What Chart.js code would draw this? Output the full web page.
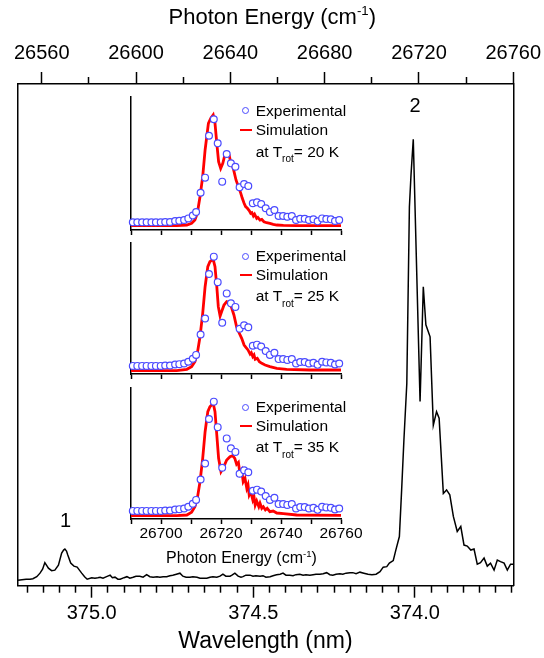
<!DOCTYPE html>
<html>
<head>
<meta charset="utf-8">
<script src="https://cdn.jsdelivr.net/npm/chart.js@4.4.1/dist/chart.umd.min.js"></script>
<style>
  html, body { margin: 0; padding: 0; background: #fff; }
  #wrap { position: relative; width: 544px; height: 658px; overflow: hidden;
          font-family: Arial, "Liberation Sans", sans-serif; color: #000; }
  canvas { position: absolute; }
  .txt { position: absolute; white-space: nowrap; line-height: 1; }
  .txt sup { font-size: 0.6em; position: relative; top: -0.15em; vertical-align: top; }
  .txt sub { font-size: 10px; position: relative; top: 5.4px; vertical-align: baseline; }
  .dot { position: absolute; width: 7px; height: 7px; box-sizing: border-box;
         border: 1.2px solid #4a4aff; border-radius: 50%; background: #fff; }
  .bar { position: absolute; width: 11.7px; height: 2.8px; background: #ff0000; }
</style>
</head>
<body>
<div id="wrap">
  <canvas id="mainChart" width="544" height="658" style="left:0;top:0"></canvas>
  <canvas id="inset1" width="270" height="150" style="left:100px;top:90px"></canvas>
  <canvas id="inset2" width="270" height="148" style="left:100px;top:236px"></canvas>
  <canvas id="inset3" width="270" height="160" style="left:100px;top:381px"></canvas>
  <div class="txt" style="left:24.5px;width:495.6px;text-align:center;top:6.3px;font-size:22px">Photon Energy (cm<sup>-1</sup>)</div>
  <div class="txt" style="left:166px;top:550.2px;font-size:16px">Photon Energy (cm<sup>-1</sup>)</div>
  <div class="txt" style="left:60.1px;top:510.2px;font-size:20px">1</div>
  <div class="txt" style="left:409.4px;top:95.2px;font-size:20px">2</div>
</div>
<script>
const FONT = 'Arial, "Liberation Sans", sans-serif';
Chart.defaults.font.family = FONT;
Chart.defaults.color = '#000';

// Main spectrum (wavelength in nm, normalised intensity)
const wavelengthNm = [
  375.228, 375.216, 375.203, 375.191, 375.182, 375.170, 375.160, 375.152, 375.145, 375.138,
  375.134, 375.124, 375.114, 375.103, 375.093, 375.087, 375.083, 375.078, 375.074, 375.065,
  375.055, 375.045, 375.038, 375.031, 375.022, 375.014, 375.000, 374.990, 374.981, 374.974,
  374.965, 374.954, 374.943, 374.936, 374.928, 374.919, 374.912, 374.900, 374.891, 374.882,
  374.872, 374.863, 374.851, 374.841, 374.830, 374.820, 374.810, 374.798, 374.789, 374.779,
  374.768, 374.758, 374.749, 374.738, 374.727, 374.718, 374.708, 374.696, 374.687, 374.674,
  374.665, 374.656, 374.644, 374.634, 374.625, 374.613, 374.603, 374.594, 374.585, 374.572,
  374.566, 374.557, 374.547, 374.538, 374.532, 374.523, 374.510, 374.501, 374.492, 374.479,
  374.470, 374.461, 374.448, 374.439, 374.428, 374.417, 374.408, 374.399, 374.387, 374.377,
  374.368, 374.356, 374.346, 374.337, 374.325, 374.315, 374.306, 374.294, 374.284, 374.273,
  374.263, 374.254, 374.244, 374.232, 374.223, 374.213, 374.201, 374.192, 374.182, 374.170,
  374.158, 374.145, 374.133, 374.120, 374.108, 374.098, 374.087, 374.079, 374.067, 374.059,
  374.048, 374.041, 374.034, 374.025, 374.017, 374.012, 374.005, 373.984, 373.974, 373.966,
  373.953, 373.943, 373.933, 373.925, 373.912, 373.902, 373.892, 373.881, 373.869, 373.858,
  373.848, 373.838, 373.827, 373.817, 373.807, 373.797, 373.786, 373.776, 373.766, 373.755,
  373.745, 373.735, 373.724, 373.714, 373.704, 373.696
];
const intensity = [
  0.011, 0.012, 0.013, 0.013, 0.014, 0.018, 0.025, 0.033, 0.046, 0.039,
  0.035, 0.030, 0.031, 0.041, 0.065, 0.071, 0.073, 0.069, 0.061, 0.045,
  0.039, 0.037, 0.031, 0.025, 0.018, 0.013, 0.016, 0.015, 0.016, 0.017,
  0.015, 0.018, 0.021, 0.016, 0.017, 0.013, 0.013, 0.016, 0.018, 0.015,
  0.017, 0.019, 0.019, 0.017, 0.022, 0.018, 0.017, 0.018, 0.017, 0.018,
  0.018, 0.020, 0.021, 0.023, 0.025, 0.019, 0.017, 0.017, 0.018, 0.017,
  0.015, 0.015, 0.015, 0.017, 0.018, 0.017, 0.019, 0.023, 0.019, 0.019,
  0.021, 0.025, 0.019, 0.017, 0.018, 0.021, 0.021, 0.019, 0.020, 0.019,
  0.020, 0.017, 0.018, 0.020, 0.022, 0.023, 0.025, 0.021, 0.021, 0.020,
  0.022, 0.023, 0.021, 0.022, 0.021, 0.022, 0.023, 0.023, 0.024, 0.026,
  0.022, 0.021, 0.023, 0.024, 0.023, 0.025, 0.026, 0.026, 0.024, 0.027,
  0.025, 0.023, 0.022, 0.023, 0.028, 0.037, 0.038, 0.045, 0.050, 0.071,
  0.098, 0.191, 0.290, 0.403, 0.755, 0.819, 0.890, 0.367, 0.596, 0.520,
  0.496, 0.320, 0.347, 0.334, 0.184, 0.191, 0.181, 0.138, 0.108, 0.118,
  0.081, 0.079, 0.071, 0.073, 0.043, 0.046, 0.055, 0.039, 0.045, 0.031,
  0.051, 0.048, 0.045, 0.031, 0.043, 0.043
];

// Main axes
const wavelengthMin = 373.6955;
const wavelengthMax = 375.229;
const wavelengthMajorTicks = [375.0, 374.5, 374.0];
const wavelengthMinorTicks = [375.2, 375.15, 375.1, 375.05, 374.95, 374.9, 374.85, 374.8, 374.75,
  374.7, 374.65, 374.6, 374.55, 374.45, 374.4, 374.35, 374.3, 374.25, 374.2, 374.15, 374.1,
  374.05, 373.95, 373.9, 373.85, 373.8, 373.75, 373.7];
const energyMin = 26549.8;
const energyMax = 26760;
const energyMajorTicks = [26560, 26600, 26640, 26680, 26720, 26760];
const energyMinorTicks = [26580, 26620, 26660, 26700, 26740];

// Inset: experimental points (same in all three panels)
const expEnergy = [
  26690.6, 26692.1, 26693.7, 26695.2, 26696.8, 26698.3, 26699.9, 26701.4, 26703.0, 26704.7,
  26706.1, 26707.7, 26709.1, 26710.6, 26711.7, 26713.2, 26714.7, 26716.0, 26717.6, 26718.9,
  26720.4, 26721.9, 26723.3, 26724.8, 26726.2, 26727.7, 26729.1, 26730.6, 26732.0, 26733.4,
  26734.9, 26736.3, 26737.8, 26739.2, 26740.7, 26742.1, 26743.6, 26745.0, 26746.4, 26747.9,
  26749.3, 26750.8, 26752.2, 26753.7, 26755.1, 26756.6, 26758.0, 26759.4
];
const expIntensity = [
  0.069, 0.069, 0.069, 0.069, 0.069, 0.069, 0.069, 0.072, 0.072, 0.081,
  0.084, 0.090, 0.105, 0.130, 0.163, 0.337, 0.473, 0.852, 1.000, 0.783,
  0.437, 0.687, 0.602, 0.572, 0.386, 0.416, 0.398, 0.241, 0.250, 0.235,
  0.196, 0.163, 0.181, 0.127, 0.127, 0.120, 0.127, 0.090, 0.102, 0.102,
  0.090, 0.096, 0.078, 0.105, 0.099, 0.096, 0.081, 0.090
];

// Simulations
const sim20Energy = [
  26690, 26705.2, 26708.6, 26710.2, 26711.3, 26712.1, 26713, 26713.9, 26714.7, 26715.8,
  26716.6, 26717.4, 26718, 26718.6, 26719.2, 26719.9, 26720.6, 26721.3, 26721.9, 26722.7,
  26723.2, 26724.1, 26725, 26725.8, 26726.6, 26727.1, 26727.7, 26728.2, 26728.8, 26729.4,
  26729.9, 26730.3, 26730.8, 26731.2, 26731.9, 26732.3, 26733, 26733.6, 26734.3, 26735.2,
  26736.3, 26737.4, 26738.6, 26740.8, 26745.2, 26760
];
const sim20 = [
  0.039, 0.039, 0.045, 0.060, 0.090, 0.151, 0.301, 0.482, 0.723, 0.964,
  1.009, 1.039, 0.964, 0.783, 0.617, 0.557, 0.602, 0.678, 0.699, 0.678,
  0.617, 0.557, 0.452, 0.392, 0.331, 0.286, 0.241, 0.211, 0.196, 0.175,
  0.151, 0.157, 0.127, 0.142, 0.105, 0.114, 0.090, 0.096, 0.075, 0.066,
  0.060, 0.051, 0.045, 0.042, 0.039, 0.039
];
const sim25Energy = [
  26690, 26705.2, 26708.6, 26710.2, 26711.3, 26712.1, 26713, 26713.9, 26714.7, 26715.6,
  26716.3, 26717.4, 26718, 26718.6, 26719.1, 26719.7, 26720.2, 26721, 26721.9, 26722.8,
  26723.6, 26724.3, 26725.2, 26726.1, 26726.9, 26727.7, 26728.3, 26729, 26729.7, 26730.1,
  26730.6, 26731, 26731.4, 26732.1, 26732.8, 26733.6, 26734.7, 26736.3, 26738.6, 26741.9,
  26749.7, 26760
];
const sim25 = [
  0.028, 0.028, 0.040, 0.063, 0.105, 0.176, 0.318, 0.517, 0.744, 0.915,
  0.957, 0.977, 0.915, 0.744, 0.574, 0.494, 0.531, 0.588, 0.616, 0.608,
  0.560, 0.503, 0.403, 0.347, 0.304, 0.247, 0.227, 0.205, 0.170, 0.182,
  0.148, 0.162, 0.125, 0.134, 0.105, 0.091, 0.077, 0.063, 0.048, 0.040,
  0.034, 0.034
];
const sim35Energy = [
  26690, 26705.2, 26708.6, 26710.2, 26711.3, 26712.1, 26713, 26713.9, 26714.7, 26715.6,
  26716.3, 26717.4, 26718, 26718.6, 26719.2, 26720, 26720.8, 26721.9, 26723, 26723.9,
  26724.6, 26725.2, 26725.8, 26726.3, 26726.9, 26727.4, 26728, 26728.6, 26729, 26729.4,
  26729.9, 26730.6, 26731, 26731.4, 26731.9, 26732.6, 26733, 26733.6, 26734.1, 26734.8,
  26735.4, 26736.3, 26737.4, 26738.6, 26740.8, 26745.2, 26760
];
const sim35 = [
  0.028, 0.028, 0.034, 0.057, 0.105, 0.176, 0.318, 0.517, 0.744, 0.915,
  0.957, 0.986, 0.915, 0.716, 0.517, 0.403, 0.438, 0.503, 0.531, 0.540,
  0.517, 0.466, 0.483, 0.389, 0.418, 0.318, 0.347, 0.261, 0.290, 0.205,
  0.233, 0.162, 0.190, 0.119, 0.153, 0.105, 0.134, 0.091, 0.105, 0.077,
  0.091, 0.063, 0.068, 0.051, 0.045, 0.034, 0.031
];
const rotTemps = [20, 25, 35];

// Inset axes
const insetMin = 26690;
const insetMax = 26760;
const insetTicks = [26690, 26700, 26710, 26720, 26730, 26740, 26750, 26760];
const insetTickLabels = [26700, 26720, 26740, 26760];

// Fixed box sizes for the axes (pixel layout of the figure)
function fixHeight(h) {
  return function (scale) {
    scale.height = h;
    scale.paddingLeft = 0;
    scale.paddingRight = 0;
  };
}
function fixWidth(w) {
  return function (scale) {
    scale.width = w;
    scale.paddingTop = 0;
    scale.paddingBottom = 0;
  };
}
function useTicks(values) {
  return function (scale) {
    scale.ticks = values.map(v => ({ value: v }));
  };
}
function toPoints(xs, ys) {
  return xs.map((x, i) => ({ x: x, y: ys[i] }));
}

const blackBorder = { display: true, color: '#000', width: 1.5 };

function tickGrid(len) {
  return { drawOnChartArea: false, tickLength: len, tickWidth: 1.5, tickColor: '#000' };
}
function bareY(position, width, max) {
  return {
    position: position, min: 0, max: max,
    afterFit: fixWidth(width),
    grid: { drawOnChartArea: false, drawTicks: false },
    border: blackBorder,
    ticks: { display: false }
  };
}

// Main chart
function generateMainChart() {
  const ctx = document.getElementById('mainChart').getContext('2d');
  new Chart(ctx, {
    type: 'line',
    data: {
      datasets: [{
        data: toPoints(wavelengthNm, intensity),
        xAxisID: 'x',
        yAxisID: 'y',
        borderColor: '#000',
        borderWidth: 1.5,
        pointRadius: 0,
        tension: 0,
        fill: false
      }]
    },
    options: {
      responsive: false,
      animation: false,
      layout: { padding: 0 },
      plugins: { legend: { display: false }, tooltip: { enabled: false } },
      scales: {
        x: {
          type: 'linear', position: 'bottom', reverse: true, weight: 1,
          min: wavelengthMin, max: wavelengthMax,
          afterBuildTicks: useTicks(wavelengthMajorTicks),
          afterFit: fixHeight(72.3),
          grid: tickGrid(12),
          border: blackBorder,
          ticks: {
            font: { size: 20, lineHeight: 1 }, padding: 6,
            autoSkip: false, maxRotation: 0,
            callback: v => v.toFixed(1)
          },
          title: {
            display: true, text: 'Wavelength (nm)',
            font: { size: 23, lineHeight: 1.2 },
            padding: { top: 0, bottom: 3 }
          }
        },
        xMinor: {
          type: 'linear', position: 'bottom', reverse: true, weight: 0,
          min: wavelengthMin, max: wavelengthMax,
          afterBuildTicks: useTicks(wavelengthMinorTicks),
          afterFit: fixHeight(0),
          grid: tickGrid(7),
          border: { display: false },
          ticks: { display: false }
        },
        x2: {
          type: 'linear', position: 'top', weight: 1,
          min: energyMin, max: energyMax,
          afterBuildTicks: useTicks(energyMajorTicks),
          afterFit: fixHeight(84),
          grid: tickGrid(12),
          border: blackBorder,
          ticks: {
            font: { size: 20, lineHeight: 1 }, padding: 9,
            autoSkip: false, maxRotation: 0,
            callback: v => String(v)
          }
        },
        x2Minor: {
          type: 'linear', position: 'top', weight: 0,
          min: energyMin, max: energyMax,
          afterBuildTicks: useTicks(energyMinorTicks),
          afterFit: fixHeight(0),
          grid: tickGrid(7),
          border: { display: false },
          ticks: { display: false }
        },
        y: bareY('left', 17.7, 1),
        yR: bareY('right', 30.7, 1)
      }
    }
  });
}

// One inset panel
function generateInset(id, simEnergy, simValues, yMax, axisHeight, showLabels) {
  const ctx = document.getElementById(id).getContext('2d');
  new Chart(ctx, {
    type: 'line',
    data: {
      datasets: [{
        label: 'Experimental',
        data: toPoints(expEnergy, expIntensity),
        showLine: false,
        pointStyle: 'circle',
        pointRadius: 3.4,
        pointBorderWidth: 1.2,
        pointBorderColor: '#4a4aff',
        pointBackgroundColor: '#fff',
        clip: false
      }, {
        label: 'Simulation',
        data: toPoints(simEnergy, simValues),
        borderColor: '#ff0000',
        borderWidth: 2.8,
        pointRadius: 0,
        tension: 0,
        clip: false
      }]
    },
    options: {
      responsive: false,
      animation: false,
      layout: { padding: { top: 7, right: 29, left: 0, bottom: 0 } },
      plugins: { legend: { display: false }, tooltip: { enabled: false } },
      scales: {
        x: {
          type: 'linear', position: 'bottom',
          min: insetMin, max: insetMax,
          afterBuildTicks: useTicks(insetTicks),
          afterFit: fixHeight(axisHeight),
          grid: tickGrid(5),
          border: blackBorder,
          ticks: {
            display: showLabels,
            font: { size: 15.5, lineHeight: 1 }, padding: 1.5,
            autoSkip: false, maxRotation: 0,
            callback: v => insetTickLabels.includes(v) ? String(v) : ''
          }
        },
        y: bareY('left', 31, yMax)
      }
    }
  });
}

// Legend text of each inset panel (HTML so the subscript is real text)
function addInsetLegend(rows, temp) {
  const wrap = document.getElementById('wrap');
  const dot = document.createElement('div');
  dot.className = 'dot';
  dot.style.left = '241.5px';
  dot.style.top = (rows[0] - 3.5) + 'px';
  wrap.appendChild(dot);

  const bar = document.createElement('div');
  bar.className = 'bar';
  bar.style.left = '240px';
  bar.style.top = (rows[1] - 1.4) + 'px';
  wrap.appendChild(bar);

  const lines = ['Experimental', 'Simulation', 'at T<sub>rot</sub>= ' + temp + ' K'];
  lines.forEach((html, i) => {
    const t = document.createElement('div');
    t.className = 'txt';
    t.style.fontSize = '15.5px';
    t.style.left = '255.7px';
    t.style.top = (rows[i] - 7.6) + 'px';
    t.innerHTML = html;
    wrap.appendChild(t);
  });
}

generateMainChart();
generateInset('inset1', sim20Energy, sim20, 1.2015, 10, false);
generateInset('inset2', sim25Energy, sim25, 1.1165, 10, false);
generateInset('inset3', sim35Energy, sim35, 1.1165, 22, true);

addInsetLegend([110.7, 130, 151.7], rotTemps[0]);
addInsetLegend([256, 275, 296], rotTemps[1]);
addInsetLegend([407, 426, 447], rotTemps[2]);
</script>
</body>
</html>
